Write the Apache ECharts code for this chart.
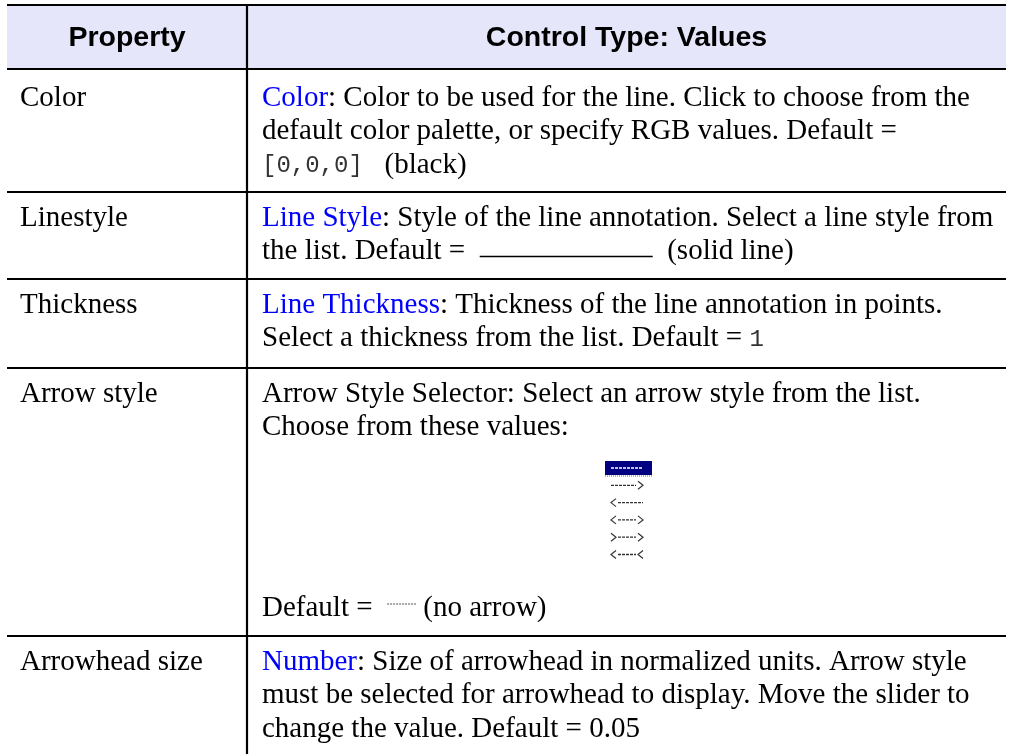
<!DOCTYPE html>
<html><head><meta charset="utf-8">
<script src="https://cdn.jsdelivr.net/npm/echarts@6/dist/echarts.min.js"></script>
<style>html,body{margin:0;padding:0;background:#fff}#c{width:1012px;height:754px}</style>
</head><body><div id="c"></div>
<script>
// ---------- DATA ----------
const headers = ['Property', 'Control Type: Values'];
const properties = ['Color', 'Linestyle', 'Thickness', 'Arrow style', 'Arrowhead size'];
// each description: list of lines; each line: list of [kind, text]
const colorDesc = [
  [['link', 'Color'], ['txt', ': Color to be used for the line. Click to choose from the']],
  [['txt', 'default color palette, or specify RGB values. Default =']],
  [['mono', '[0,0,0] '], ['txt', ' (black)']]
];
const linestyleDesc = [
  [['link', 'Line Style'], ['txt', ': Style of the line annotation. Select a line style from']],
  [['txt', 'the list. Default =  '], ['solidSample', ''], ['txt', '  (solid line)']]
];
const thicknessDesc = [
  [['link', 'Line Thickness'], ['txt', ': Thickness of the line annotation in points.']],
  [['txt', 'Select a thickness from the list. Default = '], ['mono', '1']]
];
const arrowStyleDesc = [
  [['txt', 'Arrow Style Selector: Select an arrow style from the list.']],
  [['txt', 'Choose from these values:']]
];
const arrowDefaultLine = [['txt', 'Default =  '], ['dashSample', ''], ['txt', ' (no arrow)']];
const arrowOptions = ['--------', '------->', '<-------', '<------>', '>------>', '<------<'];
const arrowSelected = 0;
const arrowheadDesc = [
  [['link', 'Number'], ['txt', ': Size of arrowhead in normalized units. Arrow style']],
  [['txt', 'must be selected for arrowhead to display. Move the slider to']],
  [['txt', 'change the value. Default = 0.05']]
];
const descriptions = [colorDesc, linestyleDesc, thicknessDesc, arrowStyleDesc, arrowheadDesc];

// ---------- LAYOUT ----------
const SERIF = '"Liberation Serif", "Times New Roman", serif';
const SANS = '"Liberation Sans", Arial, sans-serif';
const MONO = '"Liberation Mono", "Courier New", monospace';
const FS = { txt: 29, link: 29, mono: 24, head: 28.5 };
const L = {
  left: 7, right: 1006, top: 5, headBottom: 69, divX: 247,
  rowTops: [69, 192, 279, 368, 636], bottom: 754,
  col1X: 20, col2X: 262, lineH: 33.5, firstOff: 26, firstRowExtra: 3,
  solidLen: 173, dashLen: 29,
  list: { x: 605, w: 47, y0: 468, step: 17.3 },
  defaultMid: 608
};

const mctx = document.createElement('canvas').getContext('2d');
function measure(text, kind) {
  mctx.font = (kind === 'mono' ? FS.mono + 'px ' + MONO : FS.txt + 'px ' + SERIF);
  return mctx.measureText(text).width;
}

const els = [];
// header background
els.push({ type: 'rect', shape: { x: L.left, y: L.top, width: L.right - L.left, height: L.headBottom - L.top },
  style: { fill: '#E6E6FA' }, z: 0 });

// header texts
const headMid = (L.top + L.headBottom) / 2 + 1;
els.push({ type: 'text', z: 5, style: { text: headers[0], x: (L.left + L.divX) / 2, y: headMid, align: 'center', verticalAlign: 'middle',
  fontSize: FS.head, fontWeight: 'bold', fontFamily: SANS, fill: '#000' } });
els.push({ type: 'text', z: 5, style: { text: headers[1], x: (L.divX + L.right) / 2, y: headMid, align: 'center', verticalAlign: 'middle',
  fontSize: FS.head, fontWeight: 'bold', fontFamily: SANS, fill: '#000' } });

function drawLine(line, x, y) {
  let cx = x;
  for (const [kind, val] of line) {
    if (kind === 'solidSample') {
      els.push({ type: 'line', z: 5, shape: { x1: cx, y1: y + 5, x2: cx + L.solidLen, y2: y + 5 }, style: { stroke: '#000', lineWidth: 1.5 } });
      cx += L.solidLen;
    } else if (kind === 'dashSample') {
      els.push({ type: 'line', z: 5, shape: { x1: cx, y1: y - 4, x2: cx + L.dashLen, y2: y - 4 }, style: { stroke: '#555', lineWidth: 1, lineDash: [2, 1] } });
      cx += L.dashLen;
    } else {
      const isMono = kind === 'mono';
      els.push({ type: 'text', z: 5, style: {
        text: val, x: cx, y: y + (isMono ? 1 : 0), align: 'left', verticalAlign: 'middle',
        fontSize: isMono ? FS.mono : FS.txt, fontFamily: isMono ? MONO : SERIF,
        fill: kind === 'link' ? '#0000FF' : (isMono ? '#333' : '#000') } });
      cx += measure(val, kind);
    }
  }
}

properties.forEach((p, i) => {
  const mid0 = L.rowTops[i] + L.firstOff + (i === 0 ? L.firstRowExtra : 0);
  els.push({ type: 'text', z: 5, style: { text: p, x: L.col1X, y: mid0, align: 'left', verticalAlign: 'middle',
    fontSize: FS.txt, fontFamily: SERIF, fill: '#000' } });
  descriptions[i].forEach((line, k) => drawLine(line, L.col2X, mid0 + k * L.lineH));
});

// arrow style list widget
function chevron(x, y, dir, color) { // dir: 'L' => '<', 'R' => '>'
  const w = 5, h = 4;
  const pts = dir === 'L' ? [[x + w, y - h], [x, y], [x + w, y + h]] : [[x, y - h], [x + w, y], [x, y + h]];
  els.push({ type: 'polyline', z: 6, shape: { points: pts }, style: { stroke: color, lineWidth: 1.2, fill: null } });
}
arrowOptions.forEach((opt, i) => {
  const y = L.list.y0 + i * L.list.step;
  const x0 = L.list.x, x1 = L.list.x + L.list.w;
  const sel = i === arrowSelected;
  const color = sel ? '#fff' : '#333';
  if (sel) {
    els.push({ type: 'rect', z: 4, shape: { x: x0, y: y - 7, width: L.list.w, height: 14 }, style: { fill: '#000080' } });
    els.push({ type: 'line', z: 5, shape: { x1: x0, y1: y + 8, x2: x1, y2: y + 8 }, style: { stroke: '#666', lineWidth: 1, lineDash: [1, 1] } });
  }
  let dx0 = x0 + 6, dx1 = x1 - 9;
  const lc = opt[0], rc = opt[opt.length - 1];
  if (lc === '<' || lc === '>') { chevron(x0 + 6, y, lc === '<' ? 'L' : 'R', color); dx0 = x0 + 13; }
  if (rc === '<' || rc === '>') { chevron(x1 - 14, y, rc === '<' ? 'L' : 'R', color); dx1 = x1 - 16; }
  els.push({ type: 'line', z: 5, shape: { x1: dx0, y1: y, x2: dx1, y2: y }, style: { stroke: color, lineWidth: 1.3, lineDash: [3, 1] } });
});
drawLine(arrowDefaultLine, L.col2X, L.defaultMid);

// borders
const hLines = [L.top, L.headBottom].concat(L.rowTops.slice(1));
hLines.forEach(y => els.push({ type: 'line', z: 3, shape: { x1: L.left, y1: y, x2: L.right, y2: y }, style: { stroke: '#000', lineWidth: 2.2 } }));
els.push({ type: 'line', z: 3, shape: { x1: L.divX, y1: L.top, x2: L.divX, y2: L.bottom }, style: { stroke: '#000', lineWidth: 2.2 } });

const chart = echarts.init(document.getElementById('c'), null, { renderer: 'canvas' });
chart.setOption({ backgroundColor: '#fff', animation: false, graphic: { elements: els } });
</script>
</body></html>
